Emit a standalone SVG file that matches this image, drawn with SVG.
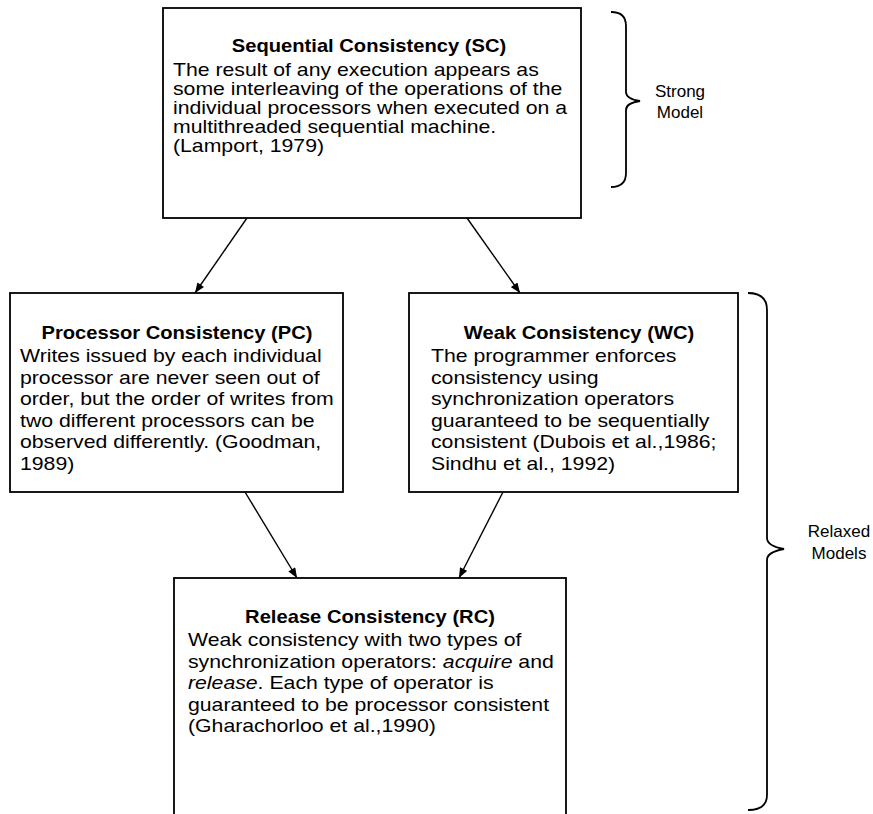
<svg xmlns="http://www.w3.org/2000/svg" width="873" height="814" viewBox="0 0 873 814">
<defs>
<style>
.box{fill:#fff;stroke:#000;stroke-width:1.8}
.t{font-family:"Liberation Sans",Arial,sans-serif;font-size:18px;fill:#000}
.b{font-weight:bold;text-anchor:middle}
.lbl{font-family:"Liberation Sans",Arial,sans-serif;font-size:17px;fill:#000;text-anchor:middle}
.edge{stroke:#000;stroke-width:1.4;fill:none;marker-end:url(#ah)}
.brace{stroke:#000;stroke-width:1.8;fill:none}
</style>
<marker id="ah" viewBox="0 0 10 8" refX="10" refY="4" markerWidth="11" markerHeight="8" markerUnits="userSpaceOnUse" orient="auto">
<path d="M0,0 L10,4 L0,8 Z" fill="#000"/>
</marker>
</defs>
<rect width="873" height="814" fill="#fff"/>

<g id="connectors">
<line class="edge" x1="247" y1="218" x2="195" y2="293"/>
<line class="edge" x1="467" y1="218" x2="520" y2="293"/>
<line class="edge" x1="245" y1="492" x2="297" y2="578"/>
<line class="edge" x1="503" y1="492" x2="459" y2="578"/>
</g>

<g id="sc">
<rect class="box" x="163" y="8" width="418" height="210"/>
<text class="t b" transform="translate(369,52) scale(1.12,1)">Sequential Consistency (SC)</text>
<text class="t" transform="translate(173,76) scale(1.18,1)">The result of any execution appears as</text>
<text class="t" transform="translate(173,95) scale(1.18,1)">some interleaving of the operations of the</text>
<text class="t" transform="translate(173,114) scale(1.18,1)">individual processors when executed on a</text>
<text class="t" transform="translate(173,133) scale(1.18,1)">multithreaded sequential machine.</text>
<text class="t" transform="translate(173,152) scale(1.18,1)">(Lamport, 1979)</text>
</g>

<g id="pc">
<rect class="box" x="10" y="293" width="333" height="199"/>
<text class="t b" transform="translate(177,339) scale(1.12,1)">Processor Consistency (PC)</text>
<text class="t" transform="translate(20,362) scale(1.18,1)">Writes issued by each individual</text>
<text class="t" transform="translate(20,383.5) scale(1.18,1)">processor are never seen out of</text>
<text class="t" transform="translate(20,405) scale(1.18,1)">order, but the order of writes from</text>
<text class="t" transform="translate(20,426.5) scale(1.18,1)">two different processors can be</text>
<text class="t" transform="translate(20,448) scale(1.18,1)">observed differently. (Goodman,</text>
<text class="t" transform="translate(20,469.5) scale(1.18,1)">1989)</text>
</g>

<g id="wc">
<rect class="box" x="409" y="293" width="329" height="199"/>
<text class="t b" transform="translate(579,339) scale(1.12,1)">Weak Consistency (WC)</text>
<text class="t" transform="translate(431,362) scale(1.18,1)">The programmer enforces</text>
<text class="t" transform="translate(431,383.5) scale(1.18,1)">consistency using</text>
<text class="t" transform="translate(431,405) scale(1.18,1)">synchronization operators</text>
<text class="t" transform="translate(431,426.5) scale(1.18,1)">guaranteed to be sequentially</text>
<text class="t" transform="translate(431,448) scale(1.18,1)">consistent (Dubois et al.,1986;</text>
<text class="t" transform="translate(431,469.5) scale(1.18,1)">Sindhu et al., 1992)</text>
</g>

<g id="rc">
<rect class="box" x="174" y="578" width="392" height="260"/>
<text class="t b" transform="translate(370,623) scale(1.12,1)">Release Consistency (RC)</text>
<text class="t" transform="translate(188,646) scale(1.18,1)">Weak consistency with two types of</text>
<text class="t" transform="translate(188,667.5) scale(1.18,1)">synchronization operators: <tspan font-style="italic">acquire</tspan> and</text>
<text class="t" transform="translate(188,689) scale(1.18,1)"><tspan font-style="italic">release</tspan>. Each type of operator is</text>
<text class="t" transform="translate(188,710.5) scale(1.18,1)">guaranteed to be processor consistent</text>
<text class="t" transform="translate(188,732) scale(1.18,1)">(Gharachorloo et al.,1990)</text>
</g>

<g id="strong">
<path class="brace" d="M611,12 Q626,12 626,26 L626,92 Q626,99 640,101 Q626,103 626,110 L626,173 Q626,187 611,187"/>
<text class="lbl" x="680" y="97">Strong</text>
<text class="lbl" x="680" y="118">Model</text>
</g>

<g id="relaxed">
<path class="brace" d="M748,293 Q767,293 767,310 L767,538 Q767,546 784,549 Q767,552 767,560 L767,795 Q767,810 748,810"/>
<text class="lbl" x="839" y="537">Relaxed</text>
<text class="lbl" x="839" y="559">Models</text>
</g>
</svg>
